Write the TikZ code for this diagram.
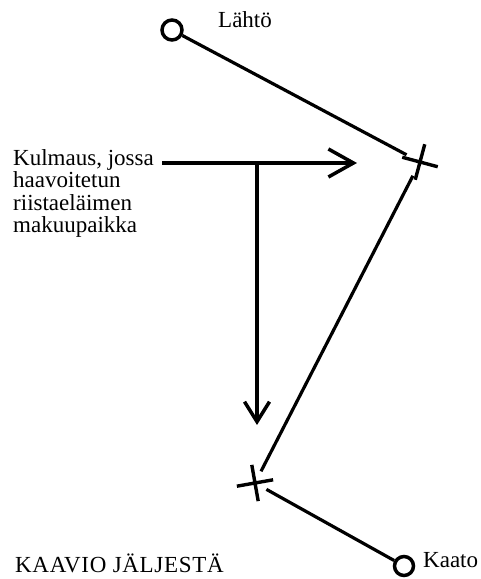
\documentclass[tikz,border=0pt]{standalone}
\usepackage{fontspec}
\setmainfont{Liberation Serif}
\usetikzlibrary{arrows.meta,shapes.misc}
\tikzset{pt/.style={draw,circle,line width=3.5pt,minimum size=16pt,inner sep=0pt},
 kr/.style={draw,cross out,line width=3.4pt,minimum size=14pt,inner sep=0pt,outer sep=6pt},
 reitti/.style={line width=3.2pt},
 nuoli/.style={line width=3.5pt,-{Straight Barb[length=25pt,width=28pt,line width=3.5pt]}},
 txt/.style={font=\fontsize{23}{22.5}\selectfont,inner sep=0pt,align=left}}
\begin{document}
\begin{tikzpicture}[x=1pt,y=1pt]
\useasboundingbox (0,0) rectangle (481,579);
\node[pt,minimum size=20pt] (lahto) at (172,549) {};
\node[txt,anchor=base west] (lahtot) at (218,551) {Lähtö};
\node[kr,rotate=30] (k1) at (420,417) {};
\node[kr,rotate=55] (k2) at (255,96) {};
\node[pt,minimum size=19pt] (kaato) at (404,13) {};
\node[txt,anchor=base west] (kaatot) at (423,11) {Kaato};
\node[txt,anchor=base west] (kaavio) at (15,6) {\addfontfeature{LetterSpace=3}KAAVIO JÄLJESTÄ};
\node[txt,anchor=north west] (lbl) at (13,430) {Kulmaus, jossa\\haavoitetun\\riistaeläimen\\makuupaikka};
\draw[reitti] (lahto)--(k1);\draw[reitti] (k1)--(k2);\draw[reitti] (k2)--(kaato);
\coordinate (ka) at (162,416);\coordinate (kb) at (357,416);
\coordinate (kc) at (257,416);\coordinate (kd) at (257,154);
\draw[nuoli] (ka)--(kb);
\draw[nuoli,-{Straight Barb[length=20pt,width=25pt,line width=3.5pt]}] (kc)--(kd);
\end{tikzpicture}
\end{document}
